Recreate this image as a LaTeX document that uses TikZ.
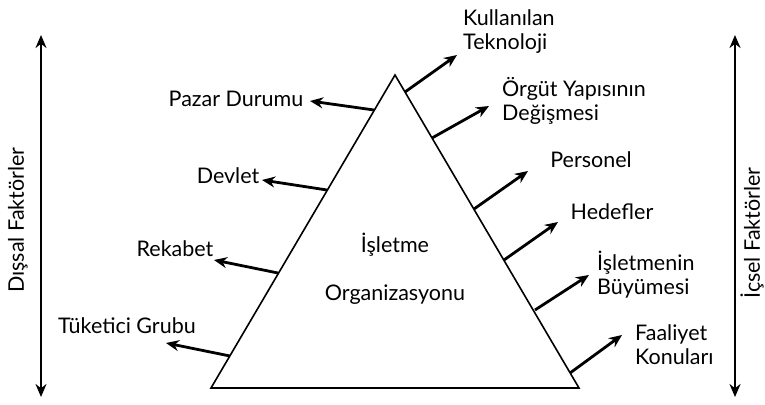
\documentclass[tikz,border=0pt]{standalone}
\usepackage{fontspec}
\setmainfont{Lato}
\usetikzlibrary{arrows.meta}
\begin{document}
\begin{tikzpicture}[x=1pt,y=-1pt,
  lbl/.style={font=\fontsize{21.5}{24}\selectfont, inner sep=0pt},
  lblml/.style={lbl, align=left, anchor=west},
  factor/.style={draw, line width=2.8pt, -{Stealth[length=13pt,width=11pt]}},
  axis/.style={draw, line width=2.8pt, {Stealth[length=13pt,width=11pt]}-{Stealth[length=13pt,width=11pt]}},
  tri/.style={draw, line width=1.6pt, line join=miter}]
\useasboundingbox (0,0) rectangle (765,404);

% pyramid
\coordinate (apex) at (395,75);
\coordinate (bl) at (211,388);
\coordinate (br) at (579,388);
\draw[tri] (bl) -- (apex) -- (br) -- cycle;

% centre label
\node[lbl] (org1) at (395,245) {İşletme};
\node[lbl] (org2) at (395,295) {Organizasyonu};

% external factors (left side)
\node[lbl] (pazar) at (236,99) {Pazar Durumu};
\coordinate (t1) at (310,101);
\node[lbl] (devlet) at (228,176) {Devlet};
\coordinate (t2) at (262,180);
\node[lbl] (rekabet) at (175,249) {Rekabet};
\coordinate (t3) at (214,260);
\node[lbl] (tuketici) at (127,326) {Tüketici Grubu};
\coordinate (t4) at (166,343);

\coordinate (s1) at (374,110);
\coordinate (s2) at (327,190);
\coordinate (s3) at (278,273);
\coordinate (s4) at (230,356);
\draw[factor] (s1) -- (t1);
\draw[factor] (s2) -- (t2);
\draw[factor] (s3) -- (t3);
\draw[factor] (s4) -- (t4);

% internal factors (right side)
\node[lblml] (tekno) at (463,32) {Kullanılan\\Teknoloji};
\node[lblml] (orgut) at (502,101) {Örgüt Yapısının\\Değişmesi};
\node[lbl] (personel) at (591,160) {Personel};
\node[lbl] (hedef) at (612,212) {Hedefler};
\node[lblml] (buyume) at (597,275) {İşletmenin\\Büyümesi};
\node[lblml] (faaliyet) at (635,345) {Faaliyet\\Konuları};

\coordinate (r1) at (405,92);
\coordinate (r2) at (432,138);
\coordinate (r3) at (474,209);
\coordinate (r4) at (504,260);
\coordinate (r5) at (535,310);
\coordinate (r6) at (570,373);
\coordinate (u1) at (457,55);
\coordinate (u2) at (489,106);
\coordinate (u3) at (528,171);
\coordinate (u4) at (558,222);
\coordinate (u5) at (589,275);
\coordinate (u6) at (622,335);
\draw[factor] (r1) -- (u1);
\draw[factor] (r2) -- (u2);
\draw[factor] (r3) -- (u3);
\draw[factor] (r4) -- (u4);
\draw[factor] (r5) -- (u5);
\draw[factor] (r6) -- (u6);

% side axes
\coordinate (la) at (41,35);
\coordinate (lb) at (41,397);
\coordinate (ra) at (735,35);
\coordinate (rb) at (735,397);
\draw[axis] (la) -- (lb);
\draw[axis] (ra) -- (rb);
\node[lbl, rotate=90] (dis) at (18,220) {Dışsal Faktörler};
\node[lbl, rotate=90] (ic) at (752,233) {İçsel Faktörler};
\end{tikzpicture}
\end{document}
